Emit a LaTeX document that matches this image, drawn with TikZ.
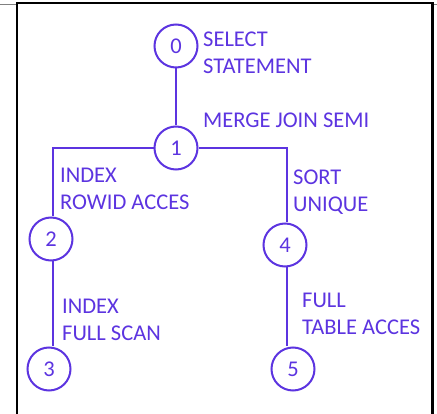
\documentclass[tikz,border=0pt]{standalone}
\usepackage{fontspec}
\setmainfont{Carlito}
\usetikzlibrary{positioning}
\definecolor{planblue}{RGB}{92,52,224}

\begin{document}
\begin{tikzpicture}[x=1pt, y=-1pt,
    op/.style={circle, draw=planblue, line width=2pt, minimum size=43pt, inner sep=0pt,
               text=planblue, font=\fontsize{22.5}{27.5}\selectfont},
    lbl/.style={anchor=base west, align=left, inner sep=0pt, text=planblue,
                font=\fontsize{22.5}{27.5}\selectfont},
    edge/.style={draw=planblue, line width=2pt}]
    % the frame
    \useasboundingbox (0,0) rectangle (437,414);
    \draw [gray, line width=1.5pt] (0,4.5) -- (17,4.5);
    \draw [gray, line width=1.5pt] (433,4.5) -- (437,4.5);
    \draw [line width=2.2pt] (17,414) -- (17,3) -- (432.5,3) -- (432.5,414);

    % the plan steps
    \node[op] (n0) at (176,46)  {0};
    \node[op] (n1) at (176,148) {1};
    \node[op] (n2) at (51,239)  {2};
    \node[op] (n3) at (49,369)  {3};
    \node[op] (n4) at (285,245) {4};
    \node[op] (n5) at (293,369) {5};

    % what each step does (base = last line)
    \node[lbl] (t0) at (203,74)  {SELECT\\STATEMENT};
    \node[lbl] (t1) at (203,128) {MERGE JOIN SEMI};
    \node[lbl] (t2) at (60,210)  {INDEX\\ROWID ACCES};
    \node[lbl] (t4) at (293,212) {SORT\\UNIQUE};
    \node[lbl] (t3) at (62,341)  {INDEX\\FULL SCAN};
    \node[lbl] (t5) at (302,335) {FULL\\TABLE ACCES};

    % the tree
    \draw[edge] (n0) -- (n1);
    \draw[edge] (n1.west) -| ([xshift=1.5pt]n2.north);
    \draw[edge] (n1.east) -| ([xshift=1.5pt]n4.north);
    \draw[edge] ([xshift=1.5pt]n2.south) -- ([xshift=1.5pt]n2.south |- n3.north);
    \draw[edge] ([xshift=1.5pt]n4.south) -- ([xshift=1.5pt]n4.south |- n5.north);
\end{tikzpicture}
\end{document}
